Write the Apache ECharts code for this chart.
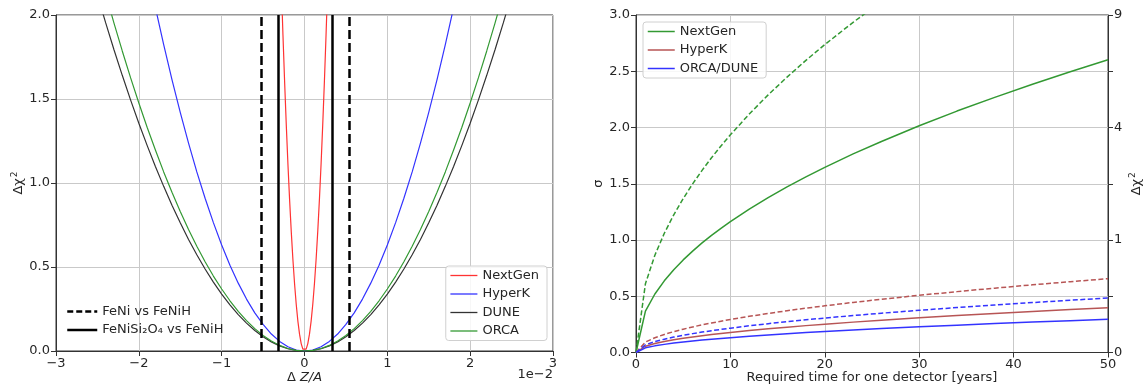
<!DOCTYPE html>
<html>
<head>
<meta charset="utf-8">
<script src="https://cdn.jsdelivr.net/npm/echarts@6/dist/echarts.min.js"></script>
<style>
html,body{margin:0;padding:0;background:#fff;}
#chart{width:1143px;height:388px;}
</style>
</head>
<body>
<div id="chart"></div>
<script>
// ---------- Left panel: Δχ² vs Δ Z/A (units of 1e-2) ----------
const zaX = [-2.5,-2.4,-2.3,-2.2,-2.1,-2.0,-1.9,-1.8,-1.7,-1.6,-1.5,-1.4,-1.3,-1.2,-1.1,-1.0,-0.9,-0.8,-0.7,-0.6,-0.5,-0.4,-0.3,-0.2,-0.1,0,
  0.1,0.2,0.3,0.4,0.5,0.6,0.7,0.8,0.9,1.0,1.1,1.2,1.3,1.4,1.5,1.6,1.7,1.8,1.9,2.0,2.1,2.2,2.3,2.4,2.5];
const hyperKChi = [3.944,3.635,3.338,3.054,2.783,2.524,2.278,2.044,1.824,1.615,1.420,1.237,1.066,0.909,0.764,0.631,0.511,0.404,0.309,0.227,0.158,0.101,0.057,0.025,0.006,0,
  0.006,0.025,0.057,0.101,0.158,0.227,0.309,0.404,0.511,0.631,0.764,0.909,1.066,1.237,1.420,1.615,1.824,2.044,2.278,2.524,2.783,3.054,3.338,3.635,3.944];
const duneChi = [2.119,1.953,1.793,1.641,1.495,1.356,1.224,1.098,0.980,0.868,0.763,0.664,0.573,0.488,0.410,0.339,0.275,0.217,0.166,0.122,0.0848,0.0542,0.0305,0.0136,0.0034,0,
  0.0034,0.0136,0.0305,0.0542,0.0848,0.122,0.166,0.217,0.275,0.339,0.410,0.488,0.573,0.664,0.763,0.868,0.980,1.098,1.224,1.356,1.495,1.641,1.793,1.953,2.119];
const orcaChi = [2.306,2.125,1.952,1.786,1.627,1.476,1.332,1.196,1.066,0.945,0.830,0.723,0.624,0.531,0.446,0.369,0.299,0.236,0.181,0.133,0.0923,0.059,0.0332,0.0148,0.0037,0,
  0.0037,0.0148,0.0332,0.059,0.0923,0.133,0.181,0.236,0.299,0.369,0.446,0.531,0.624,0.723,0.830,0.945,1.066,1.196,1.332,1.476,1.627,1.786,1.952,2.125,2.306];
const nextGenX = [-0.28,-0.26,-0.24,-0.22,-0.20,-0.18,-0.16,-0.14,-0.12,-0.10,-0.08,-0.06,-0.04,-0.02,0,
  0.02,0.04,0.06,0.08,0.10,0.12,0.14,0.16,0.18,0.20,0.22,0.24,0.26,0.28];
const nextGenChi = [2.180,1.879,1.601,1.346,1.112,0.901,0.712,0.545,0.400,0.278,0.178,0.100,0.044,0.011,0,
  0.011,0.044,0.100,0.178,0.278,0.400,0.545,0.712,0.901,1.112,1.346,1.601,1.879,2.180];
const feNiLines = [-0.52, 0.54];
const feNiSiLines = [-0.32, 0.33];

// ---------- Right panel: σ vs required time ----------
const years = [0,1,2,3,4,5,6,7,8,9,10,12,14,16,18,20,23,26,30,34,38,42,46,50];
const nextGenSigma = [0,0.368,0.520,0.637,0.736,0.823,0.901,0.974,1.041,1.104,1.164,1.275,1.377,1.472,1.561,1.646,1.765,1.876,2.016,2.146,2.268,2.385,2.496,2.602];
const nextGenSigmaDash = [0,0.612,0.865,1.060,1.224,1.368,1.499,1.619,1.731,1.836,1.935,2.120,2.290,2.448,2.597,2.737,2.935,3.121,3.352,3.569,3.772,3.966,4.151,4.327];
const hyperKSigma = [0,0.0563,0.0796,0.0975,0.1126,0.1259,0.1379,0.1490,0.1592,0.1689,0.1780,0.1950,0.2107,0.2252,0.2389,0.2518,0.2700,0.2871,0.3084,0.3283,0.3470,0.3649,0.3818,0.3981];
const hyperKSigmaDash = [0,0.0928,0.1312,0.1607,0.1856,0.2075,0.2273,0.2455,0.2624,0.2784,0.2934,0.3215,0.3472,0.3712,0.3937,0.4150,0.4451,0.4732,0.5083,0.5411,0.5720,0.6014,0.6294,0.6562];
const orcaDuneSigma = [0,0.0417,0.0590,0.0722,0.0834,0.0932,0.1021,0.1103,0.1179,0.1251,0.1319,0.1444,0.1560,0.1668,0.1769,0.1865,0.2000,0.2126,0.2284,0.2432,0.2570,0.2703,0.2828,0.2949];
const orcaDuneSigmaDash = [0,0.0685,0.0969,0.1186,0.1370,0.1532,0.1678,0.1812,0.1937,0.2055,0.2166,0.2373,0.2563,0.2740,0.2906,0.3063,0.3285,0.3493,0.3752,0.3994,0.4222,0.4439,0.4646,0.4844];

const pair = (xs, ys) => xs.map((x, i) => [x, ys[i]]);

const C = {
  red: '#ff3333', blue: '#3333ff', black: '#333333', green: '#339933', brown: '#b75555'
};
const FONT = 'DejaVu Sans';
const TXT = '#262626';
const GRIDC = '#c9c9c9';
const SPINE = '#333333';

const axisLabel = { color: TXT, fontFamily: FONT, fontSize: 13, margin: 6 };
const axisLine = { show: true, onZero: false, lineStyle: { color: SPINE, width: 1 } };
const axisTick = { show: true, inside: false, length: 5, lineStyle: { color: SPINE, width: 1 } };
const splitLine = { show: true, lineStyle: { color: GRIDC, width: 1 } };

function curve(name, data, color, xi, yi, dashed, width) {
  return {
    name, type: 'line', data, xAxisIndex: xi, yAxisIndex: yi,
    showSymbol: false, symbol: 'none', clip: true, smooth: false,
    lineStyle: { color, width: width || 1.3, type: dashed ? [5, 2.5] : 'solid' },
    itemStyle: { color }, emphasis: { disabled: true }, animation: false, z: 3
  };
}

function vlines(name, xs, dashed) {
  return {
    name, type: 'line', data: [], xAxisIndex: 0, yAxisIndex: 0, symbol: 'none',
    lineStyle: { color: '#000', width: 2.5, type: dashed ? [9, 4] : 'solid' },
    itemStyle: { color: '#000' },
    markLine: {
      silent: true, symbol: ['none', 'none'], label: { show: false }, animation: false,
      lineStyle: { color: '#000', width: 2.5, type: dashed ? [9, 4] : 'solid' },
      emphasis: { disabled: true },
      data: xs.map(x => ({ xAxis: x }))
    },
    animation: false, z: 4
  };
}

function legendItem(name, color, width, type) {
  return { name, itemStyle: { opacity: 0 }, lineStyle: { color, width, type, opacity: 1 } };
}

const chart = echarts.init(document.getElementById('chart'), null, { renderer: 'canvas' });

const legendText = { color: TXT, fontFamily: FONT, fontSize: 13 };

const option = {
  animation: false,
  backgroundColor: '#fff',
  textStyle: { fontFamily: FONT },
  grid: [
    { left: 56, top: 15, width: 497, height: 336, show: true, borderColor: SPINE, borderWidth: 1,
      backgroundColor: 'transparent', containLabel: false, outerBoundsMode: 'none' },
    { left: 636, top: 15, width: 472, height: 337.5, show: true, borderColor: SPINE, borderWidth: 1,
      backgroundColor: 'transparent', containLabel: false, outerBoundsMode: 'none' }
  ],
  xAxis: [
    {
      gridIndex: 0, type: 'value', min: -3, max: 3, interval: 1,
      axisLine, axisTick, splitLine,
      axisLabel: Object.assign({}, axisLabel, { formatter: v => (v < 0 ? '\u2212' + (-v) : '' + v) }),
      name: '{n|Δ }{i|Z/A}', nameLocation: 'middle', nameGap: 20, nameMoveOverlap: false,
      nameTextStyle: {
        color: TXT, fontFamily: FONT, fontSize: 13,
        rich: { n: { color: TXT, fontFamily: FONT, fontSize: 13 }, i: { color: TXT, fontFamily: FONT, fontSize: 13, fontStyle: 'italic' } }
      }
    },
    {
      gridIndex: 1, type: 'value', min: 0, max: 50, interval: 10,
      axisLine, axisTick, splitLine, axisLabel,
      name: 'Required time for one detector [years]', nameLocation: 'middle', nameGap: 19, nameMoveOverlap: false,
      nameTextStyle: { color: TXT, fontFamily: FONT, fontSize: 13 }
    }
  ],
  yAxis: [
    {
      gridIndex: 0, type: 'value', min: 0, max: 2, interval: 0.5,
      axisLine, axisTick, splitLine,
      axisLabel: Object.assign({}, axisLabel, { formatter: v => v.toFixed(1) }),
      name: '{a|Δχ}{s|2}', nameLocation: 'middle', nameGap: 29, nameRotate: 90, nameMoveOverlap: false,
      nameTextStyle: {
        color: TXT, fontFamily: FONT, fontSize: 13,
        rich: { a: { color: TXT, fontFamily: FONT, fontSize: 13 }, s: { color: TXT, fontFamily: FONT, fontSize: 9, verticalAlign: 'top', padding: [0, 0, 8, 1] } }
      }
    },
    {
      gridIndex: 1, type: 'value', min: 0, max: 3, interval: 0.5,
      axisLine, axisTick, splitLine,
      axisLabel: Object.assign({}, axisLabel, { formatter: v => v.toFixed(1) }),
      name: 'σ', nameLocation: 'middle', nameGap: 31, nameRotate: 90, nameMoveOverlap: false,
      nameTextStyle: { color: TXT, fontFamily: FONT, fontSize: 13 }
    },
    {
      gridIndex: 1, type: 'value', min: 0, max: 3, interval: 0.5, position: 'right',
      axisLine, axisTick, splitLine: { show: false },
      axisLabel: Object.assign({}, axisLabel, { formatter: v => (Math.abs(v - Math.round(v)) < 1e-9 ? String(Math.round(v * v)) : '') }),
      name: '{a|Δχ}{s|2}', nameLocation: 'middle', nameGap: 20, nameRotate: 90, nameMoveOverlap: false,
      nameTextStyle: {
        color: TXT, fontFamily: FONT, fontSize: 13,
        rich: { a: { color: TXT, fontFamily: FONT, fontSize: 13 }, s: { color: TXT, fontFamily: FONT, fontSize: 9, verticalAlign: 'top', padding: [0, 0, 8, 1] } }
      }
    }
  ],
  legend: [
    {
      data: [legendItem('FeNi vs FeNiH', '#000', 2.5, [6, 3]), legendItem('FeNiSi₂O₄ vs FeNiH', '#000', 2.5, 'solid')],
      left: 62, top: 303, orient: 'vertical', itemGap: 5.5, itemWidth: 30, itemHeight: 14,
      textStyle: legendText, borderWidth: 0, padding: [2, 4, 2, 4]
    },
    {
      data: [legendItem('NextGen', C.red, 1.3, 'solid'), legendItem('HyperK', C.blue, 1.3, 'solid'),
             legendItem('DUNE', C.black, 1.3, 'solid'), legendItem('ORCA', C.green, 1.3, 'solid')],
      right: 596, top: 266, orient: 'vertical', itemGap: 5.5, itemWidth: 27, itemHeight: 14,
      textStyle: legendText,
      borderColor: '#d0d0d0', borderWidth: 1, borderRadius: 3, backgroundColor: 'rgba(255,255,255,0.85)',
      padding: [3, 8, 3, 4]
    },
    {
      data: [legendItem('NextGen ', C.green, 1.5, 'solid'), legendItem('HyperK ', C.brown, 1.5, 'solid'),
             legendItem('ORCA/DUNE', C.blue, 1.5, 'solid')],
      left: 643, top: 22, orient: 'vertical', itemGap: 5.5, itemWidth: 27, itemHeight: 14,
      textStyle: legendText,
      borderColor: '#d0d0d0', borderWidth: 1, borderRadius: 3, backgroundColor: 'rgba(255,255,255,0.85)',
      padding: [3, 8, 3, 4]
    }
  ],
  graphic: [
    {
      type: 'text', right: 1143 - 553, top: 368,
      style: { text: '1e\u22122', fill: TXT, font: '13px "DejaVu Sans"' }
    }
  ],
  series: [
    curve('NextGen', pair(nextGenX, nextGenChi), C.red, 0, 0, false, 1.2),
    curve('HyperK', pair(zaX, hyperKChi), C.blue, 0, 0, false, 1.2),
    curve('DUNE', pair(zaX, duneChi), C.black, 0, 0, false, 1.2),
    curve('ORCA', pair(zaX, orcaChi), C.green, 0, 0, false, 1.2),
    vlines('FeNi vs FeNiH', feNiLines, true),
    vlines('FeNiSi₂O₄ vs FeNiH', feNiSiLines, false),
    curve('NextGen ', pair(years, nextGenSigma), C.green, 1, 1, false, 1.5),
    curve('HyperK ', pair(years, hyperKSigma), C.brown, 1, 1, false, 1.5),
    curve('ORCA/DUNE', pair(years, orcaDuneSigma), C.blue, 1, 1, false, 1.5),
    curve('NextGen dashed', pair(years, nextGenSigmaDash), C.green, 1, 1, true, 1.5),
    curve('HyperK dashed', pair(years, hyperKSigmaDash), C.brown, 1, 1, true, 1.5),
    curve('ORCA/DUNE dashed', pair(years, orcaDuneSigmaDash), C.blue, 1, 1, true, 1.5)
  ]
};
chart.setOption(option);
</script>
</body>
</html>
